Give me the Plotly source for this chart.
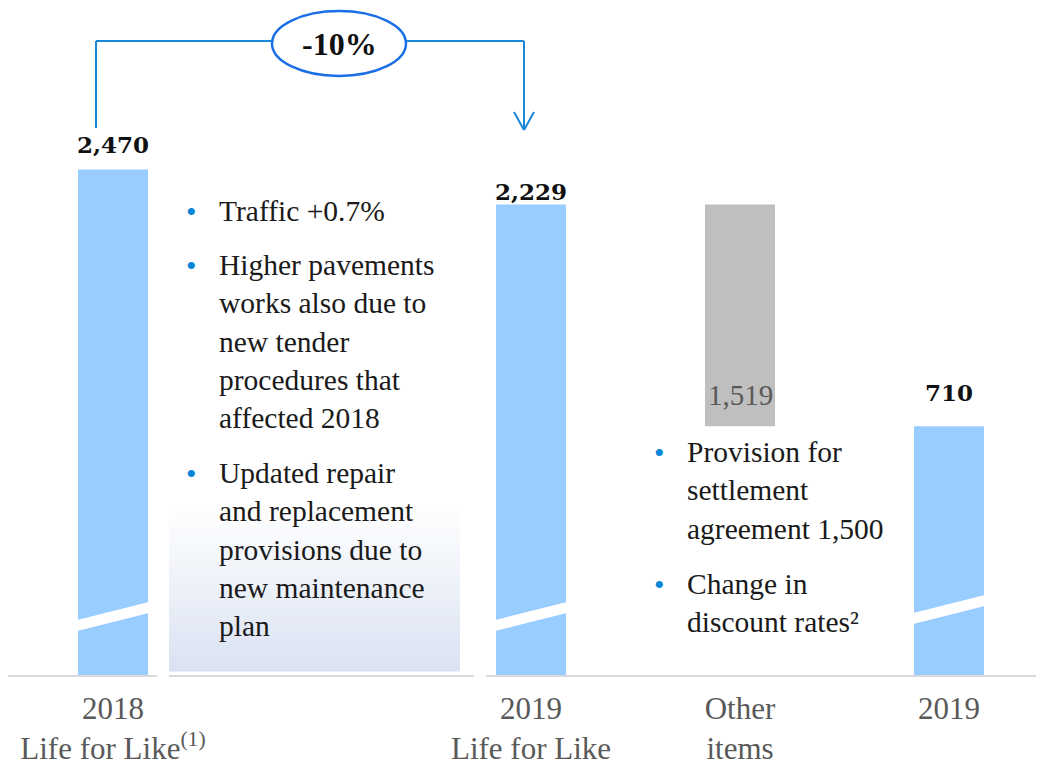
import plotly.graph_objects as go

# ---------------- data ----------------
categories = ["2018<br>Life for Like<sup>(1)</sup>", "2019<br>Life for Like", "Other<br>items", "2019"]
cat_pos = [0, 2, 3, 4]
total_x = [0, 2, 4]
total_values = [2470, 2229, 710]
other_x = [3]
other_values = [-1519]
change_label = "-10%"

bullets_left = [
    "Traffic +0.7%",
    "Higher pavements<br>works also due to<br>new tender<br>procedures that<br>affected 2018",
    "Updated repair<br>and replacement<br>provisions due to<br>new maintenance<br>plan",
]
bullets_right = [
    "Provision for<br>settlement<br>agreement 1,500",
    "Change in<br>discount rates²",
]

# ---------------- layout geometry ----------------
OFF = 8                      # page body margin
W, H = 1044 - OFF, 772 - OFF
MB = 97
PH = H - MB                  # plot height in px
Y0, Y1 = -995, 3576          # hidden (broken) value axis
X0, X1 = -(113 - OFF) / 209, (W - (113 - OFF)) / 209
BAR_W = 0.335


def px(p):   # reference pixel x -> paper
    return (p - OFF) / W


def py(p):   # reference pixel y -> paper
    return (PH - (p - OFF)) / PH


BLUE = "#99ccff"
GREY = "#bfbfbf"
LINE_BLUE = "#1b87d8"
TXT = "#1a1a1a"
AX_TXT = "#595959"
SERIF = "Liberation Serif"
NUM = "DejaVu Serif"

fig = go.Figure()

fig.add_trace(go.Bar(
    x=total_x, y=[v - Y0 for v in total_values], base=[Y0] * len(total_values),
    width=BAR_W, marker=dict(color=BLUE, line=dict(width=0)),
    hoverinfo="skip", showlegend=False,
))
prev = total_values[1]
fig.add_trace(go.Bar(
    x=other_x, y=[-v for v in other_values], base=[prev + other_values[0]],
    width=BAR_W, marker=dict(color=GREY, line=dict(width=0)),
    hoverinfo="skip", showlegend=False,
))

annotations = []
label_shift = [25, 13, 34]
for x, v, s in zip(total_x, total_values, label_shift):
    annotations.append(dict(
        x=x, y=v, xref="x", yref="y", text=f"<b>{v:,}</b>", showarrow=False,
        yanchor="middle", yshift=s, font=dict(family=NUM, size=23, color="#111111"),
    ))
annotations.append(dict(
    x=other_x[0], y=prev + other_values[0], xref="x", yref="y",
    text=f"{-other_values[0]:,}", showarrow=False, yanchor="middle", yshift=31,
    font=dict(family=SERIF, size=29, color=AX_TXT),
))

# change label
annotations.append(dict(
    x=px(339), y=py(44), xref="paper", yref="paper", text=f"<b>{change_label}</b>",
    showarrow=False, font=dict(family=SERIF, size=32, color="#111111"),
    xanchor="center", yanchor="middle",
))


# bullets
def add_bullets(items, bx, tx, first_line_ys):
    for txt, y in zip(items, first_line_ys):
        annotations.append(dict(
            x=px(bx), y=py(y), xref="paper", yref="paper", text="•", showarrow=False,
            xanchor="center", yanchor="middle", font=dict(family=SERIF, size=30, color="#0a86d8"),
        ))
        annotations.append(dict(
            x=px(tx), y=py(y - 18), xref="paper", yref="paper", text=txt, showarrow=False,
            xanchor="left", yanchor="top", align="left",
            font=dict(family=SERIF, size=29.5, color=TXT),
        ))


add_bullets(bullets_left, 191, 217, [211, 265, 473])
add_bullets(bullets_right, 659, 685, [452, 584])

shapes = []
# gradient panel behind the third bullet
top, bot = 505, 671
n = 40
c0 = (255, 255, 255)
c1 = (218, 226, 242)
for i in range(n):
    t = (i + 0.5) / n
    c = tuple(round(a + (b - a) * t) for a, b in zip(c0, c1))
    y_a = top + (bot - top) * i / n
    y_b = top + (bot - top) * (i + 1) / n + 0.6
    shapes.append(dict(
        type="rect", xref="paper", yref="paper", x0=px(169), x1=px(460),
        y0=py(y_b), y1=py(y_a), line=dict(width=0),
        fillcolor=f"rgb{c}", layer="below",
    ))

# baseline with gaps
for a, b in [(8, 157), (169, 474), (486, 1044)]:
    shapes.append(dict(type="line", xref="paper", yref="paper", x0=px(a), x1=px(b),
                       y0=py(676), y1=py(676), line=dict(color="#d9d9d9", width=2)))

# axis break stripes on blue bars
for x, off in zip(total_x, [0, 0, -7]):
    xl, xr = x - 0.19, x + 0.19
    yl1, yl2 = 620 + off + 1, 631 + off + 1
    yr1, yr2 = 602 + off - 1, 613 + off - 1
    shapes.append(dict(
        type="path", xref="x", yref="paper",
        path=f"M {xl},{py(yl1)} L {xr},{py(yr1)} L {xr},{py(yr2)} L {xl},{py(yl2)} Z",
        fillcolor="white", line=dict(width=0), layer="above",
    ))

# bracket arrow
for (xa, ya, xb, yb) in [(96, 128, 96, 41), (96, 41, 273, 41), (405, 41, 524, 41),
                         (524, 41, 524, 129), (514, 112, 524, 130), (534, 112, 524, 130)]:
    shapes.append(dict(type="line", xref="paper", yref="paper", x0=px(xa), y0=py(ya),
                       x1=px(xb), y1=py(yb), line=dict(color=LINE_BLUE, width=2)))
shapes.append(dict(type="circle", xref="paper", yref="paper", x0=px(272), x1=px(406),
                   y0=py(76), y1=py(11), line=dict(color="#1a6fe6", width=2.5),
                   fillcolor="white"))

fig.update_layout(
    width=W, height=H,
    margin=dict(l=0, r=0, t=0, b=MB),
    paper_bgcolor="white", plot_bgcolor="white",
    showlegend=False, barmode="overlay",
    xaxis=dict(range=[X0, X1], tickvals=cat_pos, ticktext=categories, showgrid=False,
               zeroline=False, showline=False, ticks="", ticklabelstandoff=12,
               automargin=False,
               tickfont=dict(family=SERIF, size=31, color=AX_TXT)),
    yaxis=dict(range=[Y0, Y1], visible=False, showgrid=False, zeroline=False,
               automargin=False),
    shapes=shapes, annotations=annotations,
)

fig.write_html("out.html")
